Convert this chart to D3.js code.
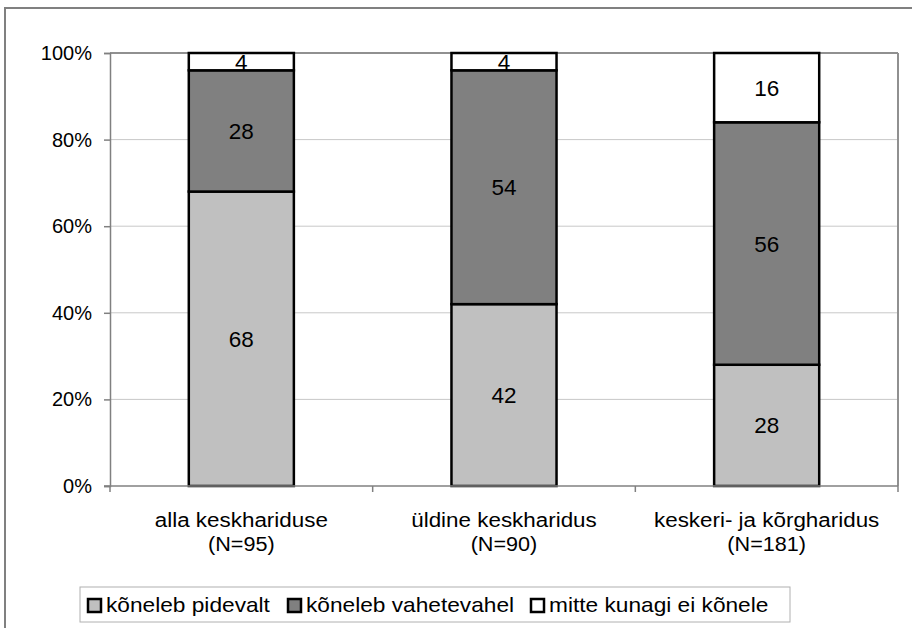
<!DOCTYPE html>
<html lang="et">
<head>
    <meta charset="UTF-8">
    <title>Keelekasutus hariduse järgi</title>
    <script src="https://d3js.org/d3.v7.min.js"></script>
    <style>
        body { margin: 0; background: #fff; }
        svg text { font-family: "Liberation Sans", Arial, sans-serif; fill: #000; }
    </style>
</head>
<body>
    <svg width="912" height="628"></svg>
    <script>
        // Data
        const categories = ["alla keskhariduse", "üldine keskharidus", "keskeri- ja kõrgharidus"];
        const sampleSizes = ["(N=95)", "(N=90)", "(N=181)"];
        const seriesNames = ["kõneleb pidevalt", "kõneleb vahetevahel", "mitte kunagi ei kõnele"];
        const pidevalt = [68, 42, 28];
        const vahetevahel = [28, 54, 56];
        const mitteKunagi = [4, 4, 16];
        const yTicks = [0, 20, 40, 60, 80, 100];

        const colors = ["#c0c0c0", "#808080", "#ffffff"];
        const seriesValues = [pidevalt, vahetevahel, mitteKunagi];

        const svg = d3.select("svg");

        // Outer frame
        svg.append("rect")
            .attr("x", 5).attr("y", 8)
            .attr("width", 940).attr("height", 640)
            .attr("fill", "none").attr("stroke", "#808080").attr("stroke-width", 2);

        const plot = { left: 110, right: 898, top: 53, bottom: 486 };

        const x = d3.scaleBand()
            .domain(categories)
            .range([plot.left, plot.right])
            .padding(0);

        const y = d3.scaleLinear()
            .domain([0, 100])
            .range([plot.bottom, plot.top]);

        // Gridlines
        svg.append("g")
            .selectAll("line")
            .data(yTicks.filter(d => d > 0))
            .join("line")
            .attr("x1", plot.left).attr("x2", plot.right)
            .attr("y1", d => y(d)).attr("y2", d => y(d))
            .attr("stroke", d => d === 100 ? "#909090" : "#c8c8c8")
            .attr("stroke-width", d => d === 100 ? 2 : 1);

        // Plot border (right)
        svg.append("line")
            .attr("x1", plot.right).attr("x2", plot.right)
            .attr("y1", plot.top).attr("y2", plot.bottom)
            .attr("stroke", "#909090").attr("stroke-width", 2);

        // Y axis
        const yAxis = svg.append("g")
            .attr("transform", `translate(${plot.left},0)`)
            .call(d3.axisLeft(y).tickValues(yTicks).tickFormat(d => d + "%").tickSize(6).tickPadding(12));
        yAxis.selectAll("path, line").attr("stroke", "#808080").attr("stroke-width", 1.5);
        yAxis.selectAll("text")
            .attr("font-size", 20)
            .attr("font-family", "Liberation Sans, Arial, sans-serif")
            .attr("fill", "#000");

        // Stack
        const rows = categories.map((c, i) => {
            const row = { category: c };
            seriesNames.forEach((s, j) => { row[s] = seriesValues[j][i]; });
            return row;
        });
        const stacked = d3.stack().keys(seriesNames)(rows);

        const barW = x.bandwidth() * 0.4;

        const groups = svg.append("g")
            .selectAll("g")
            .data(stacked)
            .join("g")
            .attr("fill", (d, i) => colors[i]);

        groups.selectAll("rect")
            .data(d => d)
            .join("rect")
            .attr("x", d => x(d.data.category) + (x.bandwidth() - barW) / 2)
            .attr("y", d => y(d[1]))
            .attr("width", barW)
            .attr("height", d => y(d[0]) - y(d[1]))
            .attr("stroke", "#000")
            .attr("stroke-width", 2.5);

        // Data labels
        groups.selectAll("text")
            .data(d => d)
            .join("text")
            .attr("x", d => x(d.data.category) + x.bandwidth() / 2)
            .attr("y", d => (y(d[0]) + y(d[1])) / 2)
            .attr("dy", "0.36em")
            .attr("text-anchor", "middle")
            .attr("font-size", 22.5)
            .attr("fill", "#000")
            .text(d => d[1] - d[0]);

        // X axis
        const xAxisG = svg.append("g").attr("transform", `translate(0,${plot.bottom})`);
        xAxisG.append("line")
            .attr("x1", plot.left - 6).attr("x2", plot.right)
            .attr("stroke", "#808080").attr("stroke-width", 1.5);
        xAxisG.selectAll(".tick")
            .data(categories.map(c => x(c)).concat([plot.right]))
            .join("line")
            .attr("x1", d => d).attr("x2", d => d)
            .attr("y1", 0).attr("y2", 6)
            .attr("stroke", "#808080").attr("stroke-width", 1.5);

        // Category labels, slightly wide like the original
        function stretched(sel, factor) {
            sel.each(function() {
                const w = this.getComputedTextLength();
                d3.select(this).attr("textLength", w * factor).attr("lengthAdjust", "spacingAndGlyphs");
            });
        }
        const cx = d => x(d) + x.bandwidth() / 2;
        xAxisG.selectAll(".xlab1")
            .data(categories)
            .join("text")
            .attr("text-anchor", "middle")
            .attr("font-size", 20)
            .attr("x", cx)
            .attr("y", 41)
            .text(d => d)
            .call(stretched, 1.12);
        xAxisG.selectAll(".xlab2")
            .data(categories)
            .join("text")
            .attr("text-anchor", "middle")
            .attr("font-size", 20)
            .attr("x", cx)
            .attr("y", 65)
            .text((d, i) => sampleSizes[i])
            .call(stretched, 1.08);

        // Legend
        const legend = svg.append("g");
        legend.append("rect")
            .attr("x", 80).attr("y", 587)
            .attr("width", 710).attr("height", 35)
            .attr("fill", "#fff").attr("stroke", "#b0b0b0").attr("stroke-width", 1);
        const legendX = [87, 287, 530];
        seriesNames.forEach((s, i) => {
            legend.append("rect")
                .attr("x", legendX[i] + 1).attr("y", 599)
                .attr("width", 13).attr("height", 13)
                .attr("fill", colors[i]).attr("stroke", "#000").attr("stroke-width", 2.5);
            legend.append("text")
                .attr("x", legendX[i] + 19).attr("y", 612)
                .attr("font-size", 21)
                .text(s)
                .call(stretched, 1.08);
        });
    </script>
</body>
</html>
